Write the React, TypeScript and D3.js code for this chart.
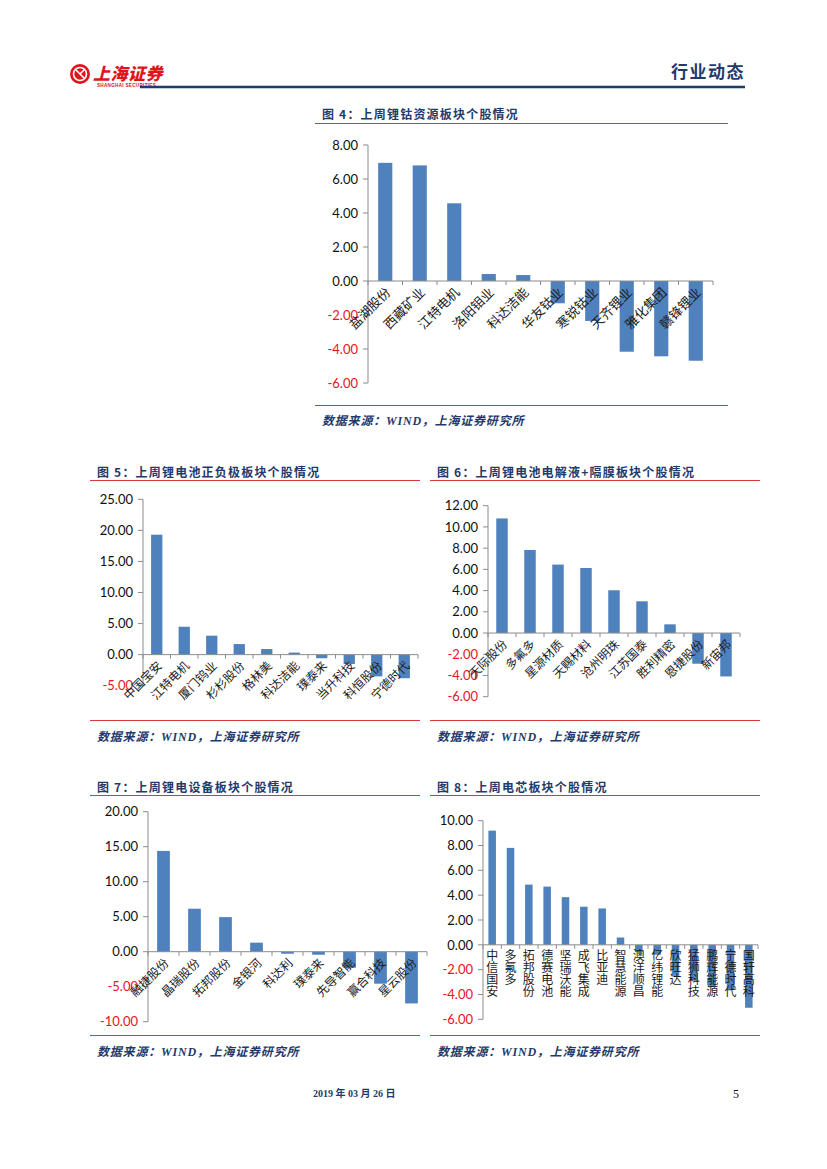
import React from 'react';
import * as d3 from 'd3';

// ---------- DATA ----------
const c4Title = '图 4：上周锂钴资源板块个股情况';
const c4Categories = ['盐湖股份', '西藏矿业', '江特电机', '洛阳钼业', '科达洁能', '华友钴业', '寒锐钴业', '天齐锂业', '雅化集团', '赣锋锂业'];
const c4Values = [6.95, 6.8, 4.57, 0.41, 0.35, -1.31, -2.35, -4.16, -4.43, -4.69];
const c4Ticks = [-6, -4, -2, 0, 2, 4, 6, 8];

const c5Title = '图 5：上周锂电池正负极板块个股情况';
const c5Categories = ['中国宝安', '江特电机', '厦门钨业', '杉杉股份', '格林美', '科达洁能', '璞泰来', '当升科技', '科恒股份', '宁德时代'];
const c5Values = [19.3, 4.49, 3.05, 1.7, 0.9, 0.33, -0.58, -1.5, -3.5, -3.8];
const c5Ticks = [-5, 0, 5, 10, 15, 20, 25];

const c6Title = '图 6：上周锂电池电解液+隔膜板块个股情况';
const c6Categories = ['天际股份', '多氟多', '星源材质', '天赐材料', '沧州明珠', '江苏国泰', '胜利精密', '恩捷股份', '新宙邦'];
const c6Values = [10.8, 7.83, 6.45, 6.13, 4.03, 2.99, 0.82, -2.89, -4.09];
const c6Ticks = [-6, -4, -2, 0, 2, 4, 6, 8, 10, 12];

const c7Title = '图 7：上周锂电设备板块个股情况';
const c7Categories = ['融捷股份', '晶瑞股份', '拓邦股份', '金银河', '科达利', '璞泰来', '先导智能', '赢合科技', '星云股份'];
const c7Values = [14.4, 6.14, 4.94, 1.29, -0.29, -0.43, -2.29, -4.57, -7.39];
const c7Ticks = [-10, -5, 0, 5, 10, 15, 20];

const c8Title = '图 8：上周电芯板块个股情况';
const c8Categories = ['中信国安', '多氟多', '拓邦股份', '德赛电池', '坚瑞沃能', '成飞集成', '比亚迪', '智慧能源', '澳洋顺昌', '亿纬锂能', '欣旺达', '猛狮科技', '鹏辉能源', '宁德时代', '国轩高科'];
const c8Values = [9.2, 7.81, 4.85, 4.69, 3.84, 3.07, 2.93, 0.59, -0.59, -0.8, -2.5, -2.9, -3.4, -3.6, -5.07];
const c8Ticks = [-6, -4, -2, 0, 2, 4, 6, 8, 10];

const sourceText = '数据来源：WIND，上海证券研究所';
const headerRight = '行业动态';
const footerDate = '2019 年 03 月 26 日';
const pageNo = '5';

// ---------- STYLE ----------
const NAVY = '#1f3a6b';
const RED_LINE = '#d23a3a';
const BAR = '#4f81bd';
const AXIS = '#8c8c8c';
const NEG = '#e8141e';
const CJK = '"Noto Sans CJK SC", "Noto Sans", sans-serif';
const NUM = 'Lato, "Open Sans", sans-serif';

type ChartProps = {
  title: string;
  cats: string[];
  vals: number[];
  ticks: number[];
  frameX0: number; frameX1: number;
  titleY: number; topLine: number; bottomLine: number; sourceY: number;
  axisX: number; axisX1: number; yTop: number; yBot: number;
  mode: 'rot' | 'vert';
  labelSize: number;
};

function BarChart(p: ChartProps) {
  const y = d3.scaleLinear().domain([p.ticks[0], p.ticks[p.ticks.length - 1]]).range([p.yBot, p.yTop]);
  const pad = 0.59;
  const x = d3.scaleBand<string>().domain(p.cats).range([p.axisX, p.axisX1]).paddingInner(pad).paddingOuter(pad / 2);
  const step = x.step();
  const y0 = y(0);
  const bounds = d3.range(p.cats.length + 1).map(i => p.axisX + i * step);
  return (
    <g>
      <text x={p.frameX0 + 7} y={p.titleY} fill={NAVY} fontFamily={CJK} fontWeight={700} fontSize={12} letterSpacing={1.2}>{p.title}</text>
      <line x1={p.frameX0} x2={p.frameX1} y1={p.topLine} y2={p.topLine} stroke={RED_LINE} strokeWidth={1} />
      {/* bars */}
      {p.cats.map((c, i) => {
        const v = p.vals[i];
        const top = Math.min(y(v), y0);
        const h = Math.abs(y(v) - y0);
        return <rect key={c + i} x={x(c)} y={top} width={x.bandwidth()} height={h} fill={BAR} />;
      })}
      {/* y axis */}
      <line x1={p.axisX} x2={p.axisX} y1={p.yTop} y2={p.yBot} stroke={AXIS} strokeWidth={1} />
      {p.ticks.map(t => (
        <g key={t}>
          <line x1={p.axisX - 5} x2={p.axisX} y1={y(t)} y2={y(t)} stroke={AXIS} strokeWidth={1} />
          <text x={p.axisX - 10} y={y(t)} dy="0.36em" textAnchor="end" fontFamily={NUM} fontSize={13} fill={t < 0 ? NEG : '#111'}>{t.toFixed(2)}</text>
        </g>
      ))}
      {/* x axis */}
      <line x1={p.axisX} x2={p.axisX1} y1={y0} y2={y0} stroke={AXIS} strokeWidth={1} />
      {bounds.map((b, i) => (
        <line key={i} x1={b} x2={b} y1={y0} y2={y0 + 4} stroke={AXIS} strokeWidth={1} />
      ))}
      {/* category labels */}
      {p.cats.map((c, i) => {
        const cx = (x(c) as number) + x.bandwidth() / 2;
        if (p.mode === 'rot') {
          return (
            <text key={c + i} transform={`translate(${cx + 3},${y0 + 9}) rotate(-45)`} textAnchor="end" dy="0.35em"
              fontFamily={CJK} fontSize={p.labelSize} fill="#1a1a1a">{c}</text>
          );
        }
        return (
          <text key={c + i} x={cx} y={y0 + 5} textAnchor="start" fontFamily={CJK} fontSize={p.labelSize} fill="#1a1a1a"
            style={{ writingMode: 'vertical-rl', textOrientation: 'upright' } as React.CSSProperties}>{c}</text>
        );
      })}
      <line x1={p.frameX0} x2={p.frameX1} y1={p.bottomLine} y2={p.bottomLine} stroke={RED_LINE} strokeWidth={1} />
      <text x={p.frameX0 + 7} y={p.sourceY} fill={NAVY} fontFamily={'"Liberation Serif", ' + CJK} fontWeight={700} fontStyle="italic" fontSize={12} letterSpacing={0.8}>{sourceText}</text>
    </g>
  );
}

export default function App() {
  return (
    <svg width={827} height={1169} viewBox="0 0 827 1169" style={{ position: 'absolute', left: 0, top: 0, background: '#fff' }}>
      <rect x={0} y={0} width={827} height={1169} fill="#fff" />
      {/* header logo */}
      <g>
        <circle cx={80} cy={74} r={10} fill="#e0141c" />
        <circle cx={80} cy={74} r={6.5} fill="none" stroke="#fff" strokeWidth={1.6} />
        <path d="M76,70 L84,78 M84,70 L80,74" stroke="#fff" strokeWidth={1.6} fill="none" />
        <text x={93} y={80} fill="#e0141c" fontFamily={CJK} fontWeight={900} fontStyle="italic" fontSize={17} letterSpacing={0.5}>上海证券</text>
        <text x={97} y={87} fill="#e0141c" fontFamily="Liberation Sans, sans-serif" fontWeight={700} fontSize={4.6} letterSpacing={0.3}>SHANGHAI SECURITIES</text>
      </g>
      <text x={745} y={78} textAnchor="end" fill={NAVY} fontFamily={CJK} fontWeight={700} fontSize={17} letterSpacing={1.5}>{headerRight}</text>
      <line x1={140} x2={745} y1={87} y2={87} stroke={NAVY} strokeWidth={2.5} />

      <BarChart title={c4Title} cats={c4Categories} vals={c4Values} ticks={c4Ticks}
        frameX0={315} frameX1={728} titleY={119} topLine={123.5} bottomLine={405.5} sourceY={425}
        axisX={368} axisX1={713} yTop={145} yBot={383} mode="rot" labelSize={13} />

      <BarChart title={c5Title} cats={c5Categories} vals={c5Values} ticks={c5Ticks}
        frameX0={90} frameX1={420} titleY={477} topLine={480.5} bottomLine={720.5} sourceY={741}
        axisX={143} axisX1={418} yTop={499.3} yBot={685.7} mode="rot" labelSize={12} />

      <BarChart title={c6Title} cats={c6Categories} vals={c6Values} ticks={c6Ticks}
        frameX0={430} frameX1={760} titleY={477} topLine={480.5} bottomLine={720.5} sourceY={741}
        axisX={488} axisX1={740} yTop={505.7} yBot={696.7} mode="rot" labelSize={12} />

      <BarChart title={c7Title} cats={c7Categories} vals={c7Values} ticks={c7Ticks}
        frameX0={90} frameX1={420} titleY={792} topLine={795.5} bottomLine={1035.5} sourceY={1056}
        axisX={148} axisX1={427} yTop={811.7} yBot={1021.7} mode="rot" labelSize={12} />

      <BarChart title={c8Title} cats={c8Categories} vals={c8Values} ticks={c8Ticks}
        frameX0={430} frameX1={760} titleY={792} topLine={795.5} bottomLine={1035.5} sourceY={1056}
        axisX={483} axisX1={758} yTop={820.7} yBot={1019.3} mode="vert" labelSize={12} />

      <text x={313} y={1097} fill={NAVY} fontFamily={'"Liberation Serif", ' + CJK} fontWeight={700} fontSize={10}>{footerDate}</text>
      <text x={736} y={1098} textAnchor="middle" fill="#111" fontFamily="Liberation Serif, serif" fontSize={12}>{pageNo}</text>
    </svg>
  );
}
